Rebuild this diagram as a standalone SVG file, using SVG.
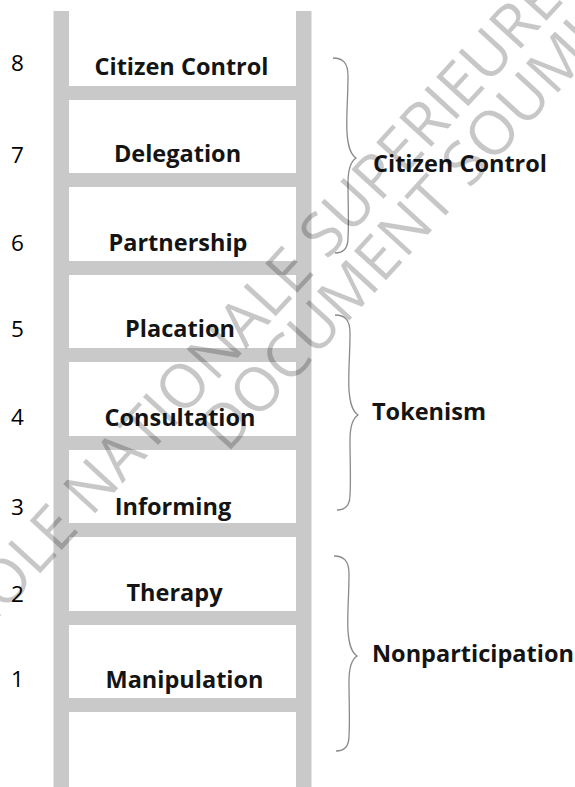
<svg xmlns="http://www.w3.org/2000/svg" width="575" height="787" viewBox="0 0 575 787">
<style>
.rail{fill:#c9c9c9}
.lbl{font-family:"Open Sans","Liberation Sans",sans-serif;font-weight:bold;font-size:23.5px;fill:#141414;text-anchor:middle}
.num{font-family:"Open Sans","Liberation Sans",sans-serif;font-size:22.5px;fill:#000;text-anchor:middle}
.cat{font-family:"Open Sans","Liberation Sans",sans-serif;font-weight:bold;font-size:23.5px;fill:#141414}
.brace{fill:none;stroke:#8a8a8a;stroke-width:1.3}
.wm{font-family:"Open Sans","Liberation Sans",sans-serif;font-size:61px;fill:#000;fill-opacity:0.22}
</style>
<defs>
<path id="br" class="brace" d="M0,0 C10,0 15,5 15,18 C15,40 13,60 14,75 C15,88 17,96 23,100 C17,104 15,112 15,125 C15,145 16,165 15,180 C15,190 10,195 2,195"/>
</defs>
<rect width="575" height="787" fill="#fff"/>
<g id="ladder">
<rect class="rail" x="53.5" y="11" width="15.5" height="776"/>
<rect class="rail" x="296" y="11" width="15.5" height="776"/>
<rect class="rail" x="69" y="86" width="227" height="14"/>
<rect class="rail" x="69" y="173" width="227" height="14"/>
<rect class="rail" x="69" y="261" width="227" height="14"/>
<rect class="rail" x="69" y="348" width="227" height="14"/>
<rect class="rail" x="69" y="436" width="227" height="14"/>
<rect class="rail" x="69" y="523" width="227" height="14"/>
<rect class="rail" x="69" y="611" width="227" height="14"/>
<rect class="rail" x="69" y="698" width="227" height="14"/>
</g>
<g id="level-8"><text class="num" x="17.5" y="71">8</text><text class="lbl" x="181.5" y="75">Citizen Control</text></g>
<g id="level-7"><text class="num" x="17.5" y="163">7</text><text class="lbl" x="177.5" y="162">Delegation</text></g>
<g id="level-6"><text class="num" x="17.5" y="251">6</text><text class="lbl" x="178" y="251">Partnership</text></g>
<g id="level-5"><text class="num" x="17.5" y="337">5</text><text class="lbl" x="180" y="337">Placation</text></g>
<g id="level-4"><text class="num" x="17.5" y="425">4</text><text class="lbl" x="180" y="426">Consultation</text></g>
<g id="level-3"><text class="num" x="17.5" y="515">3</text><text class="lbl" x="173" y="515">Informing</text></g>
<g id="level-2"><text class="num" x="17.5" y="602">2</text><text class="lbl" x="174.5" y="601">Therapy</text></g>
<g id="level-1"><text class="num" x="17.5" y="687">1</text><text class="lbl" x="184.5" y="688">Manipulation</text></g>
<g id="connectors">
<use href="#br" x="333" y="58"/>
<use href="#br" x="335" y="315"/>
<use href="#br" x="334" y="556"/>
</g>
<g id="cat-citizen-control"><text class="cat" x="373" y="172">Citizen Control</text></g>
<g id="cat-tokenism"><text class="cat" x="372" y="420">Tokenism</text></g>
<g id="cat-nonparticipation"><text class="cat" x="372" y="662">Nonparticipation</text></g>
<g id="watermark" transform="translate(227,454) rotate(-47.5)">
<text class="wm" x="-340" y="-57">ECOLE NATIONALE SUPERIEURE</text>
<text class="wm" x="0" y="0">DOCUMENT SOUMIS</text>
</g>
</svg>
